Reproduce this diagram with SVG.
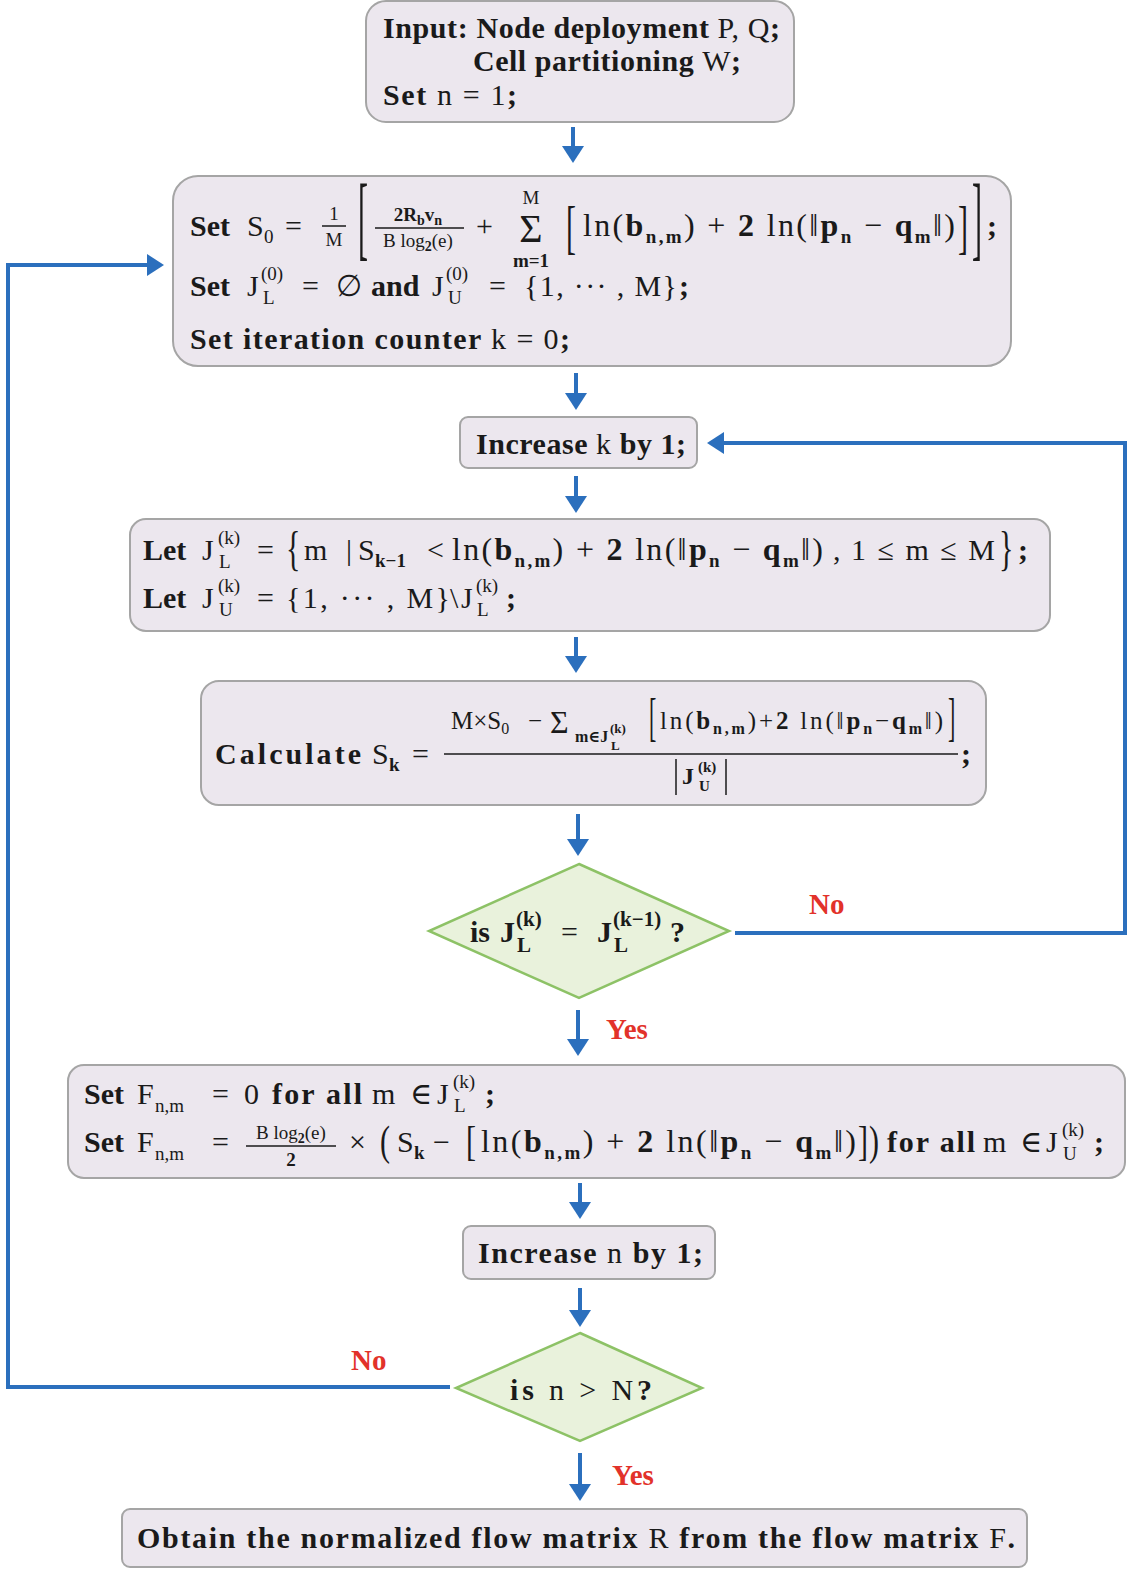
<svg xmlns="http://www.w3.org/2000/svg" width="1127" height="1569" viewBox="0 0 1127 1569">
<style>
text{font-family:"Liberation Serif","DejaVu Serif",serif;fill:#1a1a1a;}
.b{font-size:30px;font-weight:bold;}
.m{font-size:30px;font-weight:normal;}
.f{font-size:32px;font-weight:normal;}
.s{font-size:19px;font-weight:normal;}
.sb{font-size:19px;font-weight:bold;}
.lab{font-size:29px;font-weight:bold;fill:#e2322a;}
.box{fill:#ece7ee;stroke:#a5a5a5;stroke-width:2;}
.dia{fill:#e9f2dc;stroke:#8dc266;stroke-width:2.5;}
.con{fill:none;stroke:#2b6fbd;stroke-width:4;}
.fl{stroke:#1a1a1a;stroke-width:1.5;}
</style>
<defs>
<marker id="ah" viewBox="0 -11 17 22" markerWidth="17" markerHeight="22" refX="1" refY="0" orient="auto" markerUnits="userSpaceOnUse">
<path d="M0,-11 L17,0 L0,11 z" fill="#2b6fbd"/>
</marker>
</defs>

<g id="connectors">
<line class="con" x1="573" y1="127" x2="573" y2="147" marker-end="url(#ah)"/>
<line class="con" x1="576" y1="373" x2="576" y2="394" marker-end="url(#ah)"/>
<line class="con" x1="576" y1="476" x2="576" y2="497" marker-end="url(#ah)"/>
<line class="con" x1="576" y1="637" x2="576" y2="657" marker-end="url(#ah)"/>
<line class="con" x1="578" y1="814" x2="578" y2="840" marker-end="url(#ah)"/>
<line class="con" x1="578" y1="1010" x2="578" y2="1040" marker-end="url(#ah)"/>
<line class="con" x1="580" y1="1183" x2="580" y2="1203" marker-end="url(#ah)"/>
<line class="con" x1="580" y1="1288" x2="580" y2="1311" marker-end="url(#ah)"/>
<line class="con" x1="580" y1="1453" x2="580" y2="1485" marker-end="url(#ah)"/>
<polyline class="con" points="735,933 1125,933 1125,443 723,443" marker-end="url(#ah)"/>
<polyline class="con" points="450,1387 8,1387 8,265 148,265" marker-end="url(#ah)"/>
<text class="lab" x="809" y="914">No</text>
<text class="lab" x="606" y="1039">Yes</text>
<text class="lab" x="351" y="1370">No</text>
<text class="lab" x="612" y="1485">Yes</text>
</g>

<g id="n1">
<rect class="box" x="366" y="1" width="428" height="121" rx="20"/>
<text class="b" x="383" y="38" textLength="397">Input: Node deployment <tspan class="m">P, Q</tspan>;</text>
<text class="b" x="473" y="71" textLength="268">Cell partitioning <tspan class="m">W</tspan>;</text>
<text class="b" x="383" y="105" textLength="134">Set <tspan class="m">n = 1</tspan>;</text>
</g>

<g id="n2">
<rect class="box" x="173" y="176" width="838" height="190" rx="25"/>
<text class="b" x="190" y="236">Set</text>
<text class="m" x="247" y="236">S</text><text class="s" x="264" y="243">0</text>
<text class="m" x="285" y="236">=</text>
<text class="s" x="334" y="220" text-anchor="middle">1</text>
<line class="fl" x1="322" y1="226" x2="346" y2="226"/>
<text class="s" x="334" y="246" text-anchor="middle">M</text>
<text class="m" transform="translate(358,249) scale(1,3.1)">[</text>
<text class="sb" x="418" y="221" text-anchor="middle">2R<tspan font-size="14" dy="4">b</tspan><tspan dy="-4">v</tspan><tspan font-size="14" dy="4">n</tspan></text>
<line class="fl" x1="375" y1="228" x2="464" y2="228"/>
<text class="s" x="418" y="247" text-anchor="middle">B log<tspan font-size="14" dy="4" font-weight="bold">2</tspan><tspan dy="-4">(e)</tspan></text>
<text class="m" x="476" y="236">+</text>
<text class="m" x="531" y="242" text-anchor="middle" style="font-size:40px">Σ</text>
<text class="s" x="531" y="204" text-anchor="middle">M</text>
<text class="sb" x="531" y="267" text-anchor="middle">m=1</text>
<text class="m" transform="translate(566,247) scale(1,2)">[</text>
<text class="f" x="583" y="236" textLength="372">ln(<tspan font-weight="bold">b</tspan><tspan class="sb" dy="7">n,m</tspan><tspan dy="-7">) + </tspan><tspan font-weight="bold">2</tspan> ln(‖<tspan font-weight="bold">p</tspan><tspan class="sb" dy="7">n</tspan><tspan dy="-7"> − </tspan><tspan font-weight="bold">q</tspan><tspan class="sb" dy="7">m</tspan><tspan dy="-7">‖)</tspan></text>
<text class="m" transform="translate(958,247) scale(1,2)">]</text>
<text class="m" transform="translate(972,249) scale(1,3.1)">]</text>
<text class="b" x="987" y="236">;</text>

<text class="b" x="190" y="296">Set</text>
<text class="m" x="247" y="296">J</text><text class="s" x="261" y="280">(0)</text><text class="s" x="263" y="304">L</text>
<text class="m" x="302" y="296">=</text>
<text class="m" x="336" y="296">∅</text>
<text class="b" x="371" y="296">and</text>
<text class="m" x="432" y="296">J</text><text class="s" x="446" y="280">(0)</text><text class="s" x="448" y="304">U</text>
<text class="m" x="489" y="296">=</text>
<text class="m" x="524" y="296" textLength="153">{1, ··· , M}</text>
<text class="b" x="679" y="296">;</text>

<text class="b" x="190" y="349" textLength="380">Set iteration counter <tspan class="m">k = 0</tspan>;</text>
</g>

<g id="n3">
<rect class="box" x="460" y="417" width="237" height="51" rx="8"/>
<text class="b" x="476" y="454" textLength="210">Increase <tspan class="m">k</tspan> by 1;</text>
</g>

<g id="n4">
<rect class="box" x="130" y="519" width="920" height="112" rx="16"/>
<text class="b" x="143" y="560">Let</text>
<text class="m" x="202" y="560">J</text><text class="s" x="218" y="544">(k)</text><text class="s" x="219" y="568">L</text>
<text class="m" x="257" y="560">=</text>
<text class="m" transform="translate(286,565) scale(1,1.6)">{</text>
<text class="m" x="304" y="560">m</text>
<text class="m" x="346" y="560">|</text>
<text class="m" x="358" y="560">S</text><text class="sb" x="375" y="567">k−1</text>
<text class="m" x="427" y="560">&lt;</text>
<text class="f" x="452" y="560" textLength="371">ln(<tspan font-weight="bold">b</tspan><tspan class="sb" dy="7">n,m</tspan><tspan dy="-7">) + </tspan><tspan font-weight="bold">2</tspan> ln(‖<tspan font-weight="bold">p</tspan><tspan class="sb" dy="7">n</tspan><tspan dy="-7"> − </tspan><tspan font-weight="bold">q</tspan><tspan class="sb" dy="7">m</tspan><tspan dy="-7">‖)</tspan></text>
<text class="m" x="833" y="560">,</text>
<text class="m" x="851" y="560" textLength="144">1 ≤ m ≤ M</text>
<text class="m" transform="translate(999,565) scale(1,1.6)">}</text>
<text class="b" x="1018" y="560">;</text>

<text class="b" x="143" y="608">Let</text>
<text class="m" x="202" y="608">J</text><text class="s" x="218" y="592">(k)</text><text class="s" x="219" y="616">U</text>
<text class="m" x="257" y="608">=</text>
<text class="m" x="286" y="608" textLength="164">{1, ··· , M}</text>
<text class="m" x="450" y="608">\</text>
<text class="m" x="461" y="608">J</text><text class="s" x="476" y="592">(k)</text><text class="s" x="477" y="616">L</text>
<text class="b" x="506" y="608">;</text>
</g>

<g id="n5">
<rect class="box" x="201" y="681" width="785" height="124" rx="18"/>
<text class="b" x="215" y="764" textLength="146">Calculate</text>
<text class="m" x="372" y="764">S</text><text class="sb" x="389" y="771">k</text>
<text class="m" x="412" y="764">=</text>
<line class="fl" x1="444" y1="754" x2="958" y2="754"/>
<text class="m" x="451" y="729" style="font-size:25px">M×S<tspan font-size="16" dy="5">0</tspan></text>
<text class="m" x="528" y="729" style="font-size:25px">−</text>
<text class="m" x="550" y="733" style="font-size:32px">Σ</text>
<text class="sb" x="575" y="742" style="font-size:16px">m∈J</text>
<text class="sb" x="610" y="733" style="font-size:13px">(k)</text>
<text class="sb" x="611" y="750" style="font-size:13px">L</text>
<text class="m" style="font-size:22px" transform="translate(649,735) scale(1,2.4)">[</text>
<text class="m" x="660" y="729" style="font-size:25px" textLength="283">ln(<tspan font-weight="bold">b</tspan><tspan font-size="16" font-weight="bold" dy="5">n,m</tspan><tspan dy="-5">)+</tspan><tspan font-weight="bold">2</tspan> ln(‖<tspan font-weight="bold">p</tspan><tspan font-size="16" font-weight="bold" dy="5">n</tspan><tspan dy="-5">−</tspan><tspan font-weight="bold">q</tspan><tspan font-size="16" font-weight="bold" dy="5">m</tspan><tspan dy="-5">‖)</tspan></text>
<text class="m" style="font-size:22px" transform="translate(948,735) scale(1,2.4)">]</text>
<line class="fl" x1="676" y1="759" x2="676" y2="795"/>
<text class="b" x="682" y="784" style="font-size:24px">J</text>
<text class="sb" x="698" y="772" style="font-size:15px">(k)</text>
<text class="sb" x="699" y="791" style="font-size:15px">U</text>
<line class="fl" x1="726" y1="759" x2="726" y2="795"/>
<text class="b" x="961" y="764">;</text>
</g>

<g id="n6">
<polygon class="dia" points="579,864 729,931 579,998 429,931"/>
<text class="b" x="470" y="942">is</text>
<text class="b" x="500" y="942">J</text><text class="sb" x="516" y="926" style="font-size:21px">(k)</text><text class="sb" x="517" y="952" style="font-size:21px">L</text>
<text class="m" x="561" y="942">=</text>
<text class="b" x="597" y="942">J</text><text class="sb" x="613" y="926" style="font-size:21px">(k−1)</text><text class="sb" x="614" y="952" style="font-size:21px">L</text>
<text class="b" x="670" y="942">?</text>
</g>

<g id="n7">
<rect class="box" x="68" y="1065" width="1057" height="113" rx="16"/>
<text class="b" x="84" y="1104">Set</text>
<text class="m" x="137" y="1104">F</text><text class="s" x="155" y="1112">n,m</text>
<text class="m" x="212" y="1104">=</text>
<text class="m" x="244" y="1104">0</text>
<text class="b" x="272" y="1104" textLength="90">for all</text>
<text class="m" x="372" y="1104">m</text>
<text class="m" x="410" y="1104">∈</text>
<text class="m" x="437" y="1104">J</text><text class="s" x="453" y="1088">(k)</text><text class="s" x="454" y="1112">L</text>
<text class="b" x="485" y="1104">;</text>

<text class="b" x="84" y="1152">Set</text>
<text class="m" x="137" y="1152">F</text><text class="s" x="155" y="1160">n,m</text>
<text class="m" x="212" y="1152">=</text>
<text class="s" x="291" y="1139" text-anchor="middle">B log<tspan font-size="14" font-weight="bold" dy="4">2</tspan><tspan dy="-4">(e)</tspan></text>
<line class="fl" x1="246" y1="1146" x2="336" y2="1146"/>
<text class="sb" x="291" y="1166" text-anchor="middle">2</text>
<text class="m" x="349" y="1152">×</text>
<text class="m" transform="translate(380,1155) scale(1,1.4)">(</text>
<text class="m" x="397" y="1152">S</text><text class="sb" x="414" y="1159">k</text>
<text class="m" x="433" y="1152">−</text>
<text class="m" transform="translate(466,1155) scale(1,1.4)">[</text>
<text class="f" x="481" y="1152" textLength="375">ln(<tspan font-weight="bold">b</tspan><tspan class="sb" dy="7">n,m</tspan><tspan dy="-7">) + </tspan><tspan font-weight="bold">2</tspan> ln(‖<tspan font-weight="bold">p</tspan><tspan class="sb" dy="7">n</tspan><tspan dy="-7"> − </tspan><tspan font-weight="bold">q</tspan><tspan class="sb" dy="7">m</tspan><tspan dy="-7">‖)</tspan></text>
<text class="m" transform="translate(858,1155) scale(1,1.4)">]</text>
<text class="m" transform="translate(869,1155) scale(1,1.4)">)</text>
<text class="b" x="887" y="1152" textLength="88">for all</text>
<text class="m" x="983" y="1152">m</text>
<text class="m" x="1020" y="1152">∈</text>
<text class="m" x="1046" y="1152">J</text><text class="s" x="1062" y="1136">(k)</text><text class="s" x="1063" y="1160">U</text>
<text class="b" x="1094" y="1152">;</text>
</g>

<g id="n8">
<rect class="box" x="463" y="1226" width="252" height="53" rx="8"/>
<text class="b" x="478" y="1263" textLength="225">Increase <tspan class="m">n</tspan> by 1;</text>
</g>

<g id="n9">
<polygon class="dia" points="580,1333 702,1388 580,1441 456,1388"/>
<text class="b" x="510" y="1400" textLength="142">is <tspan class="m">n &gt; N</tspan>?</text>
</g>

<g id="n10">
<rect class="box" x="122" y="1509" width="905" height="58" rx="8"/>
<text class="b" x="137" y="1548" textLength="878">Obtain the normalized flow matrix <tspan class="m">R</tspan> from the flow matrix <tspan class="m">F</tspan>.</text>
</g>
</svg>
